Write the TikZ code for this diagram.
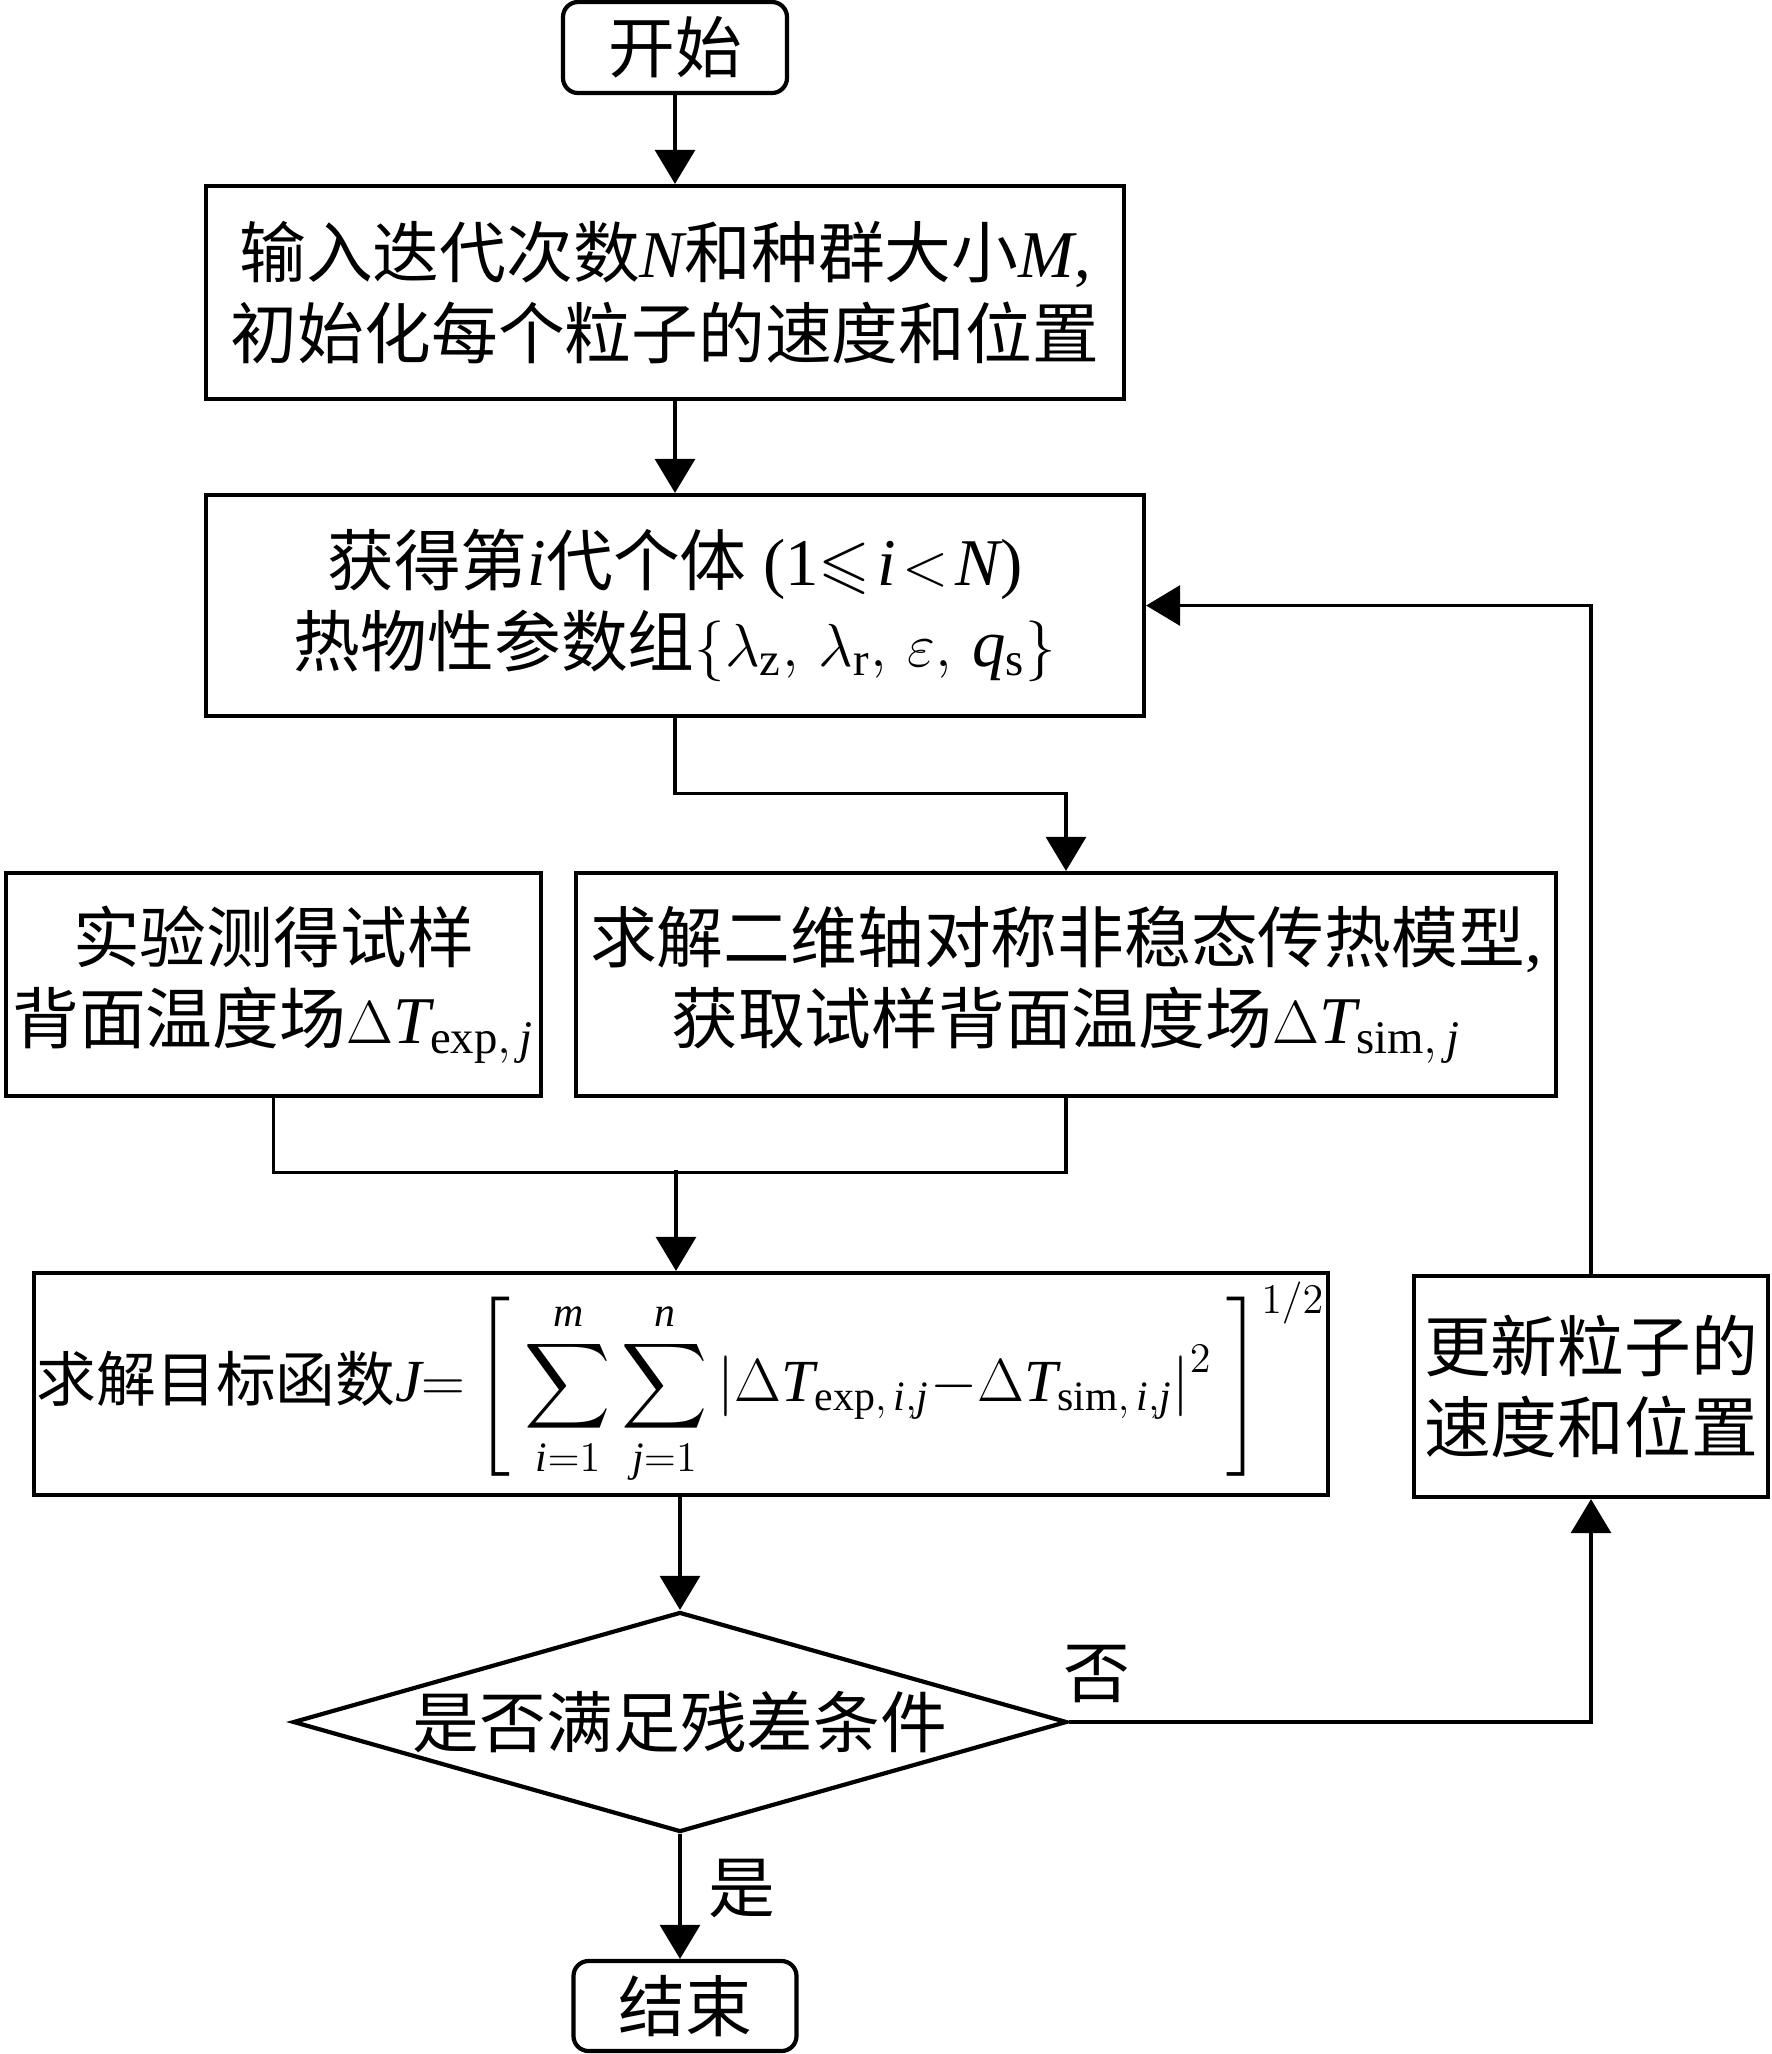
\documentclass[tikz,border=0pt]{standalone}
\usepackage{amssymb}
\usepackage{fontspec}
\setmainfont{Liberation Serif}
\newfontfamily\cjk{Noto Sans CJK SC}
\usetikzlibrary{arrows.meta,shapes.geometric}

\newcommand{\brk}[1]{\left#1\vcenter{\hbox{\rule{0pt}{46pt}}}\right.}
\newcommand{\brkr}[1]{\left.\vcenter{\hbox{\rule{0pt}{46pt}}}\right#1}

\begin{document}
\begin{tikzpicture}[
    box/.style={draw, line width=1.2pt, align=center, inner sep=0pt,
      font=\fontsize{19}{23}\selectfont},
    term/.style={box, rounded corners=1.5mm},
    arr/.style={-{Triangle[width=4mm,length=3.4mm]}, line width=0.9pt},
    link/.style={line width=0.9pt},
    lab/.style={font=\fontsize{19}{23}\selectfont\cjk}
  ]
  \useasboundingbox (0, 0) rectangle (17.72, -20.54);

  \node[term, minimum width=2.24cm, minimum height=0.91cm] (start) at (6.75, -0.475) {\cjk 开始};
  \node[box, minimum width=9.18cm, minimum height=2.13cm] (init) at (6.65, -2.925)
    {{\cjk 输入迭代次数}$\mathit{N}${\cjk 和种群大小}$\mathit{M}$,\\{\cjk 初始化每个粒子的速度和位置}};
  \node[box, minimum width=9.38cm, minimum height=2.21cm] (indiv) at (6.75, -6.055)
    {{\cjk 获得第}$\mathit{i}${\cjk 代个体} (1$\leqslant\!\mathit{i}\!<\!\mathit{N}$)\\
     {\cjk 热物性参数组}$\{\lambda_{\mathrm{z}},\,\lambda_{\mathrm{r}},\,\varepsilon,\,\mathit{q}_{\mathrm{s}}\}$};
  \node[box, minimum width=5.35cm, minimum height=2.23cm] (expt) at (2.735, -9.845)
    {{\cjk 实验测得试样}\\{\cjk 背面温度场}$\Delta\mathit{T}_{\mathrm{exp},\,\mathit{j}}$};
  \node[box, minimum width=9.8cm, minimum height=2.23cm] (sim) at (10.66, -9.845)
    {{\cjk 求解二维轴对称非稳态传热模型},\\{\cjk 获取试样背面温度场}$\Delta\mathit{T}_{\mathrm{sim},\,\mathit{j}}$};
  \node[box, minimum width=12.94cm, minimum height=2.22cm, font=\fontsize{17}{21}\selectfont] (obj) at (6.81, -13.84)
    {{\cjk 求解目标函数}$\mathit{J}{=}\brk[\displaystyle
      \sum_{\mathit{i}=1}^{\mathit{m}}\sum_{\mathit{j}=1}^{\mathit{n}}
      \big|\Delta\mathit{T}_{\mathrm{exp},\,\mathit{i},\mathit{j}}{-}\Delta\mathit{T}_{\mathrm{sim},\,\mathit{i},\mathit{j}}\big|^{2}
      \brkr]^{1/2}$};
  \node[box, minimum width=3.54cm, minimum height=2.21cm] (update) at (15.91, -13.865)
    {{\cjk 更新粒子的}\\{\cjk 速度和位置}};
  \node[box, diamond, minimum width=7.74cm, minimum height=2.2cm] (cond) at (6.80, -17.22)
    {\makebox[0pt]{\cjk 是否满足残差条件}};
  \node[term, minimum width=2.23cm, minimum height=0.9cm] (end) at (6.85, -20.06) {\cjk 结束};

  % main path
  \draw[arr] (start.south) -- (start.south |- init.north);
  \draw[arr] (init.south -| indiv.north) -- (indiv.north);
  \draw[arr] (indiv.south) -- ++(0, -0.75) -| (sim.north);
  \draw[link] (expt.south) -- ++(0, -0.74) -| (sim.south);
  \coordinate (merge) at (6.76, -11.70);
  \draw[arr] (merge) -- (merge |- obj.north);
  \draw[arr] (cond.north |- obj.south) -- (cond.north);
  \draw[arr] (cond.south) -- (cond.south |- end.north);

  % loop back
  \draw[arr] (cond.east) -| (update.south);
  \draw[arr] (update.north) |- (indiv.east);

  \node[lab] (no) at (10.97, -16.74) {否};
  \node[lab] (yes) at (7.42, -18.88) {是};
\end{tikzpicture}
\end{document}
